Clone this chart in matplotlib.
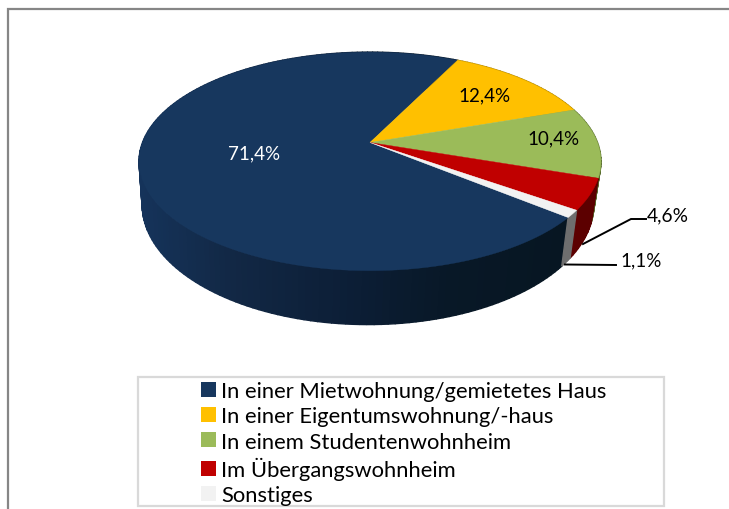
import numpy as np
import matplotlib
matplotlib.use("Agg")
import matplotlib.pyplot as plt
from matplotlib.patches import Polygon, Patch, Rectangle
from matplotlib.colors import to_rgb

categories = ["In einer Mietwohnung/gemietetes Haus", "In einer Eigentumswohnung/-haus",
              "In einem Studentenwohnheim", "Im Übergangswohnheim", "Sonstiges"]
values = [71.4, 12.4, 10.4, 4.6, 1.1]
labels = ["71,4%", "12,4%", "10,4%", "4,6%", "1,1%"]
colors = ["#17375e", "#ffc000", "#9bbb59", "#c00000", "#f2f2f2"]

FONT = "Lato"
W, H = 729, 510
fig = plt.figure(figsize=(W / 100, H / 100), dpi=100)
ax = fig.add_axes([0, 0, 1, 1])
ax.set_xlim(0, W)
ax.set_ylim(H, 0)
ax.axis("off")

# perspective projection of the unit disc on to the picture
AX, AY, A, B, K = 370.0, 143.5, 227.5, 106.0, 0.1727


def top(theta):
    t = np.radians(theta)
    w = 1 + K * np.sin(t)
    return AX + A * np.cos(t) / w, AY - B * np.sin(t) / w


def bottom(theta):
    x, y = top(theta)
    return 368 + (x - 370) * 0.978, 205 + (y - 162) * 1.10


def navy_wall(x):
    xs = [140, 230, 350, 450, 565]
    rs = [to_rgb(c) for c in ["#15335a", "#122845", "#0c1e36", "#081827", "#071622"]]
    return tuple(np.interp(x, xs, [r[i] for r in rs]) for i in range(3))


wall_fixed = {1: "#a88000", 2: "#566b2c", 3: "#5c0000", 4: "#6e6e6e"}

total = sum(values)
start = 63.6 + 360 * values[0] / total
edges = [start]
for v in values:
    edges.append(edges[-1] - 360 * v / total)

# side wall, drawn as narrow vertical strips
for i in range(len(values)):
    n = max(3, int(abs(edges[i + 1] - edges[i]) / 1.5))
    th = np.linspace(edges[i], edges[i + 1], n + 1)
    for a, b in zip(th[:-1], th[1:]):
        x1, y1 = top(a)
        x2, y2 = top(b)
        x3, y3 = bottom(b)
        x4, y4 = bottom(a)
        col = navy_wall((x1 + x2) / 2) if i == 0 else wall_fixed[i]
        ax.add_patch(Polygon([(x1, y1), (x2, y2), (x3, y3), (x4, y4)], closed=True,
                             facecolor=col, edgecolor=col, lw=1.0, zorder=2))

# top faces
for i in range(len(values)):
    th = np.linspace(edges[i], edges[i + 1], 300)
    xs, ys = top(th)
    ax.add_patch(Polygon(np.vstack([[AX, AY], np.column_stack([xs, ys])]), closed=True,
                         facecolor=colors[i], edgecolor=colors[i], lw=0.3, zorder=3))

# data labels
label_pos = [(254, 154, "white"), (485, 96, "black"), (554, 139, "black")]
for (x, y, c), s in zip(label_pos, labels[:3]):
    ax.text(x, y, s, color=c, ha="center", va="center", fontsize=13.5, family=FONT, zorder=5)

# leader lines and outside labels
ax.plot([583, 631, 646], [245, 220, 220], color="black", lw=1.4, zorder=4, solid_joinstyle="miter")
ax.plot([565, 616], [265.5, 266], color="black", lw=1.4, zorder=4)
ax.text(647, 216, labels[3], color="black", ha="left", va="center", fontsize=13.8, family=FONT, zorder=5)
ax.text(620, 261, labels[4], color="black", ha="left", va="center", fontsize=13.5, family=FONT, zorder=5)

# outer frame (left and top only are in view)
ax.plot([8.5, 8.5, W + 5], [H + 5, 9.5, 9.5], color="#868686", lw=1.6, zorder=1, solid_joinstyle="miter")

# legend
ax.add_patch(Rectangle((138.5, 377.5), 526, 129, facecolor="white", edgecolor="#d9d9d9", lw=1.6, zorder=1))
handles = [Patch(facecolor=c, edgecolor="none") for c in colors]
leg = ax.legend(handles, categories, loc="upper left", bbox_to_anchor=(201, 382),
                bbox_transform=ax.transData, frameon=False, borderpad=0, borderaxespad=0,
                handlelength=0.66, handleheight=0.66, handletextpad=0.24, labelspacing=0.24,
                prop={"family": FONT, "size": 15.85}, labelcolor="black")
leg.set_zorder(6)

fig.savefig("out.png", dpi=100, facecolor="white")
